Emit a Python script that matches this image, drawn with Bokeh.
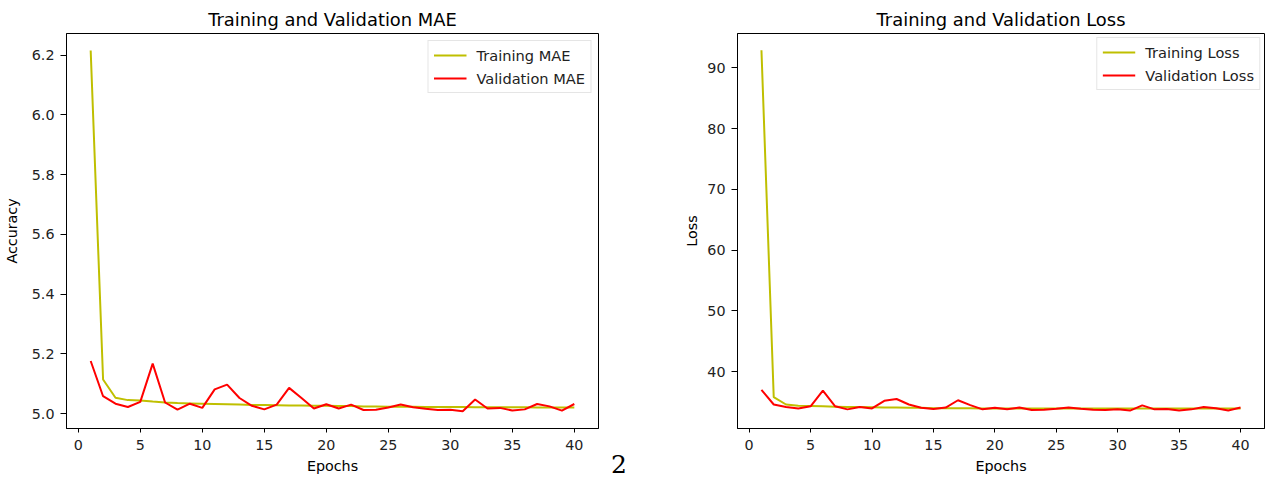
from bokeh.plotting import figure
from bokeh.layouts import row
from bokeh.models import (FixedTicker, PrintfTickFormatter, Legend,
                          LegendItem, Range1d, Div)
from bokeh.embed import file_html
from bokeh.resources import INLINE

# ---------------- data ----------------
epochs = list(range(1, 41))

train_mae = [6.215, 5.114, 5.053, 5.045, 5.044, 5.040, 5.037, 5.035, 5.034, 5.033,
             5.032, 5.031, 5.030, 5.029, 5.029, 5.028, 5.027, 5.027, 5.026, 5.026,
             5.025, 5.025, 5.024, 5.024, 5.023, 5.023, 5.023, 5.022, 5.022, 5.022,
             5.022, 5.021, 5.021, 5.021, 5.021, 5.021, 5.020, 5.020, 5.020, 5.020]
val_mae = [5.176, 5.058, 5.033, 5.022, 5.039, 5.167, 5.037, 5.013, 5.033, 5.019,
           5.081, 5.097, 5.052, 5.026, 5.014, 5.030, 5.086, 5.052, 5.017, 5.031,
           5.017, 5.030, 5.012, 5.013, 5.020, 5.030, 5.021, 5.016, 5.012, 5.013,
           5.008, 5.047, 5.017, 5.019, 5.010, 5.014, 5.032, 5.024, 5.010, 5.032]

train_loss = [92.9, 35.8, 34.6, 34.4, 34.35, 34.3, 34.25, 34.2, 34.2, 34.15,
              34.1, 34.1, 34.05, 34.05, 34.0, 34.0, 34.0, 34.0, 33.95, 33.95,
              33.95, 33.95, 33.95, 33.95, 33.95, 33.95, 33.95, 33.95, 33.95, 33.95,
              33.95, 33.95, 33.95, 33.95, 33.95, 33.95, 33.95, 33.95, 33.95, 33.95]
val_loss = [37.0, 34.6, 34.2, 33.95, 34.3, 36.9, 34.3, 33.8, 34.2, 33.95,
            35.2, 35.5, 34.6, 34.07, 33.85, 34.1, 35.3, 34.5, 33.8, 34.07,
            33.8, 34.1, 33.7, 33.75, 33.9, 34.1, 33.9, 33.75, 33.7, 33.8,
            33.6, 34.45, 33.8, 33.85, 33.6, 33.8, 34.2, 34.0, 33.6, 34.1]

x_ticks = [0, 5, 10, 15, 20, 25, 30, 35, 40]
mae_ticks = [5.0, 5.2, 5.4, 5.6, 5.8, 6.0, 6.2]
loss_ticks = [40, 50, 60, 70, 80, 90]

titles = ["Training and Validation MAE", "Training and Validation Loss"]
y_labels = ["Accuracy", "Loss"]
x_label = "Epochs"
mae_legend = ["Training MAE", "Validation MAE"]
loss_legend = ["Training Loss", "Validation Loss"]
page_mark = "2"

FONT = "DejaVu Sans"
TRAIN_COLOR = "#bfbf00"
VAL_COLOR = "#ff0000"
H = 479


def make(title, ylabel, ytrain, yval, labels, yticks, yfmt, yr, width,
         bl, br, ylab_standoff, lmargin):
    p = figure(width=width, height=H, output_backend="svg",
               toolbar_location=None,
               x_range=Range1d(-0.95, 41.95), y_range=Range1d(*yr),
               min_border_left=bl, min_border_right=br,
               min_border_top=33, min_border_bottom=51)
    p.background_fill_color = "white"
    p.border_fill_color = "white"
    p.outline_line_color = "black"
    p.outline_line_width = 1
    p.outline_line_alpha = 1.0

    p.title.text = title
    p.title.align = "center"
    p.title.text_font = FONT
    p.title.text_font_size = "17.9px"
    p.title.text_font_style = "normal"
    p.title.text_color = "black"
    p.title.standoff = 7

    p.xgrid.visible = False
    p.ygrid.visible = False

    for ax in (p.xaxis[0], p.yaxis[0]):
        ax.axis_line_color = "black"
        ax.major_tick_line_color = "black"
        ax.major_tick_in = 0
        ax.minor_tick_out = 0
        ax.minor_tick_in = 0
        ax.major_label_text_font = FONT
        ax.major_label_text_font_size = "14.3px"
        ax.major_label_text_color = "#222222"
        ax.axis_label_text_font = FONT
        ax.axis_label_text_font_size = "14.3px"
        ax.axis_label_text_font_style = "normal"
        ax.axis_label_text_color = "black"
    p.xaxis.major_tick_out = 4
    p.xaxis.major_label_standoff = 7
    p.xaxis.axis_label_standoff = 5
    p.yaxis.major_tick_out = 6
    p.yaxis.major_label_standoff = 6
    p.yaxis.axis_label_standoff = ylab_standoff

    p.xaxis.ticker = FixedTicker(ticks=x_ticks)
    p.xaxis.axis_label = x_label
    p.yaxis.ticker = FixedTicker(ticks=yticks)
    p.yaxis.formatter = PrintfTickFormatter(format=yfmt)
    p.yaxis.axis_label = ylabel

    r1 = p.line(epochs, ytrain, line_color=TRAIN_COLOR, line_width=2)
    r2 = p.line(epochs, yval, line_color=VAL_COLOR, line_width=2)

    legend = Legend(items=[LegendItem(label=labels[0], renderers=[r1]),
                           LegendItem(label=labels[1], renderers=[r2])],
                    location="top_right")
    legend.margin = lmargin
    legend.padding = 5
    legend.spacing = 5
    legend.glyph_width = 33
    legend.glyph_height = 18
    legend.label_height = 18
    legend.label_standoff = 10
    legend.label_text_font = FONT
    legend.label_text_font_size = "14.6px"
    legend.label_text_color = "#222222"
    legend.border_line_color = "#cccccc"
    legend.border_line_width = 1
    legend.background_fill_color = "white"
    legend.background_fill_alpha = 0.9
    p.add_layout(legend)
    return p


p1 = make(titles[0], y_labels[0], train_mae, val_mae, mae_legend, mae_ticks,
          "%.1f", (4.95, 6.272), 600, 66, 2, 9, 7)
p2 = make(titles[1], y_labels[1], train_loss, val_loss, loss_legend, loss_ticks,
          "%d", (30.65, 95.67), 626, 97, 2, 4, 4)

# narrow spacer holding the stray page-number glyph of the source picture
mid = Div(text=('<div style="margin:0;padding:0;margin-top:452px;margin-left:11px;'
                'font-family:\'DejaVu Serif\';font-size:25px;line-height:26px;'
                'color:black;">' + page_mark + '</div>'),
          width=40, height=H, margin=0)

layout = row(p1, mid, p2)
open("out.html", "w").write(file_html(layout, INLINE))
